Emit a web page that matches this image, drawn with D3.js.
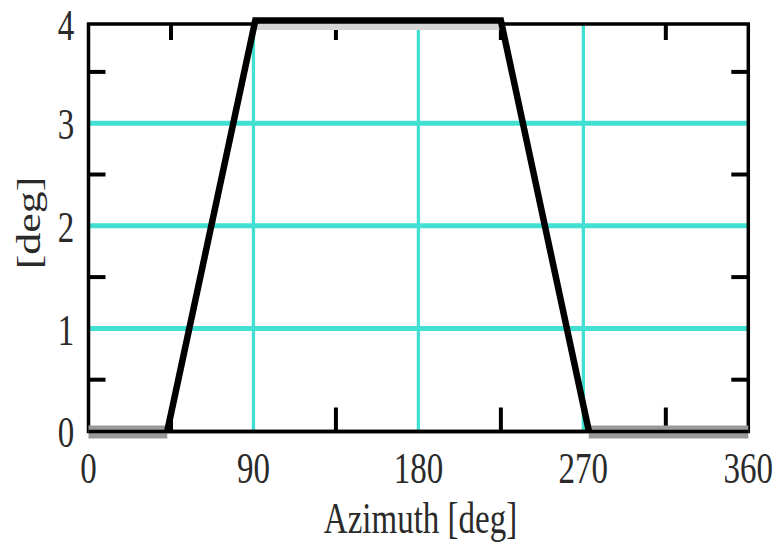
<!DOCTYPE html>
<html>
<head>
<meta charset="utf-8">
<script src="https://cdn.jsdelivr.net/npm/d3@7"></script>
<style>
  html, body { margin: 0; padding: 0; background: #fff; }
  svg { display: block; }
  text { font-family: "Liberation Serif", "DejaVu Serif", serif; fill: #2a2a2a; }
</style>
</head>
<body>
<svg id="chart" width="778" height="548"></svg>
<script>
// ---- data ----
const xTicks = [0, 90, 180, 270, 360];
const xMinorTicks = [45, 135, 225, 315];
const yTicks = [0, 1, 2, 3, 4];
const yMinorTicks = [0.5, 1.5, 2.5, 3.5];
const xGrid = [90, 180, 270];
const yGrid = [1, 2, 3];

const grayAzimuth = [0, 43, 91, 225, 273, 360];
const grayValue   = [0, 0, 4, 4, 0, 0];
const blackAzimuth = [43, 91, 225, 273];
const blackValue   = [0, 4, 4, 0];

const xLabel = "Azimuth [deg]";
const yLabel = "[deg]";

// ---- layout ----
const svg = d3.select("#chart");
const frame = { left: 88.5, right: 748.3, top: 24, bottom: 431.5 };
const x = d3.scaleLinear().domain([0, 360]).range([frame.left, frame.right]);
const y = d3.scaleLinear().domain([0, 4]).range([431, 20.6]);
const sy = 1.33; // vertical stretch of text

// grid
const gridColor = "#42e0d2";
svg.append("g").selectAll("line").data(yGrid).join("line")
  .attr("x1", frame.left).attr("x2", frame.right)
  .attr("y1", d => y(d)).attr("y2", d => y(d))
  .attr("stroke", gridColor).attr("stroke-width", 5);
svg.append("g").selectAll("line").data(xGrid).join("line")
  .attr("x1", d => x(d)).attr("x2", d => x(d))
  .attr("y1", frame.top).attr("y2", frame.bottom)
  .attr("stroke", gridColor).attr("stroke-width", 3.3);

// frame
svg.append("rect")
  .attr("x", frame.left).attr("y", frame.top)
  .attr("width", frame.right - frame.left).attr("height", frame.bottom - frame.top)
  .attr("fill", "none").attr("stroke", "#000").attr("stroke-width", 3.5);

// minor ticks (inside)
const tk = svg.append("g").attr("stroke", "#000").attr("stroke-width", 4);
tk.selectAll(".tt").data(xMinorTicks).join("line").attr("class", "tt")
  .attr("x1", d => x(d)).attr("x2", d => x(d)).attr("y1", frame.top).attr("y2", frame.top + 16);
tk.selectAll(".tb").data(xMinorTicks).join("line").attr("class", "tb")
  .attr("x1", d => x(d)).attr("x2", d => x(d)).attr("y1", frame.bottom).attr("y2", frame.bottom - 24);
tk.selectAll(".tl").data(yMinorTicks).join("line").attr("class", "tl")
  .attr("x1", frame.left).attr("x2", frame.left + 17).attr("y1", d => y(d)).attr("y2", d => y(d));
tk.selectAll(".tr").data(yMinorTicks).join("line").attr("class", "tr")
  .attr("x1", frame.right).attr("x2", frame.right - 17).attr("y1", d => y(d)).attr("y2", d => y(d));

// gray series: only its flat segments show (ramps lie under the black line)
const grayPts = d3.zip(grayAzimuth, grayValue);
const graySegs = d3.pairs(grayPts).filter(([a, b]) => a[1] === b[1]);
svg.append("g").selectAll("line").data(graySegs).join("line")
  .attr("x1", d => x(d[0][0])).attr("x2", d => x(d[1][0]))
  .attr("y1", d => y(d[0][1]) + (d[0][1] === 0 ? 1 : 6))
  .attr("y2", d => y(d[1][1]) + (d[1][1] === 0 ? 1 : 6))
  .attr("stroke", d => d[0][1] === 0 ? "#999999" : "#d4d4d4")
  .attr("stroke-width", d => d[0][1] === 0 ? 13 : 7);

// redraw bottom frame edge over gray
svg.append("line")
  .attr("x1", frame.left).attr("x2", frame.right)
  .attr("y1", frame.bottom).attr("y2", frame.bottom)
  .attr("stroke", "#000").attr("stroke-width", 3.5);

// black series
const line = d3.line().x(d => x(d[0])).y(d => y(d[1]));
svg.append("path")
  .datum(d3.zip(blackAzimuth, blackValue))
  .attr("d", line)
  .attr("fill", "none").attr("stroke", "#000").attr("stroke-width", 6.5)
  .attr("stroke-linejoin", "miter");

// tick labels
const fs = 33;
svg.append("g").selectAll("text").data(xTicks).join("text")
  .attr("transform", d => `translate(${x(d)},467.5) scale(1,${sy})`)
  .attr("text-anchor", "middle").attr("dominant-baseline", "central")
  .attr("font-size", fs).text(d => d);
svg.append("g").selectAll("text").data(yTicks).join("text")
  .attr("transform", d => `translate(66,${Math.max(y(d) + 1, 25)}) scale(1,${sy})`)
  .attr("text-anchor", "middle").attr("dominant-baseline", "central")
  .attr("font-size", fs).text(d => d);

// axis labels
svg.append("text")
  .attr("transform", `translate(420.5,533) scale(1,${sy})`)
  .attr("text-anchor", "middle").attr("font-size", fs).text(xLabel);
svg.append("text")
  .attr("transform", `translate(29,223) scale(1,${sy}) rotate(-90)`)
  .attr("text-anchor", "middle").attr("dominant-baseline", "central")
  .attr("font-size", fs).text(yLabel);
</script>
</body>
</html>
